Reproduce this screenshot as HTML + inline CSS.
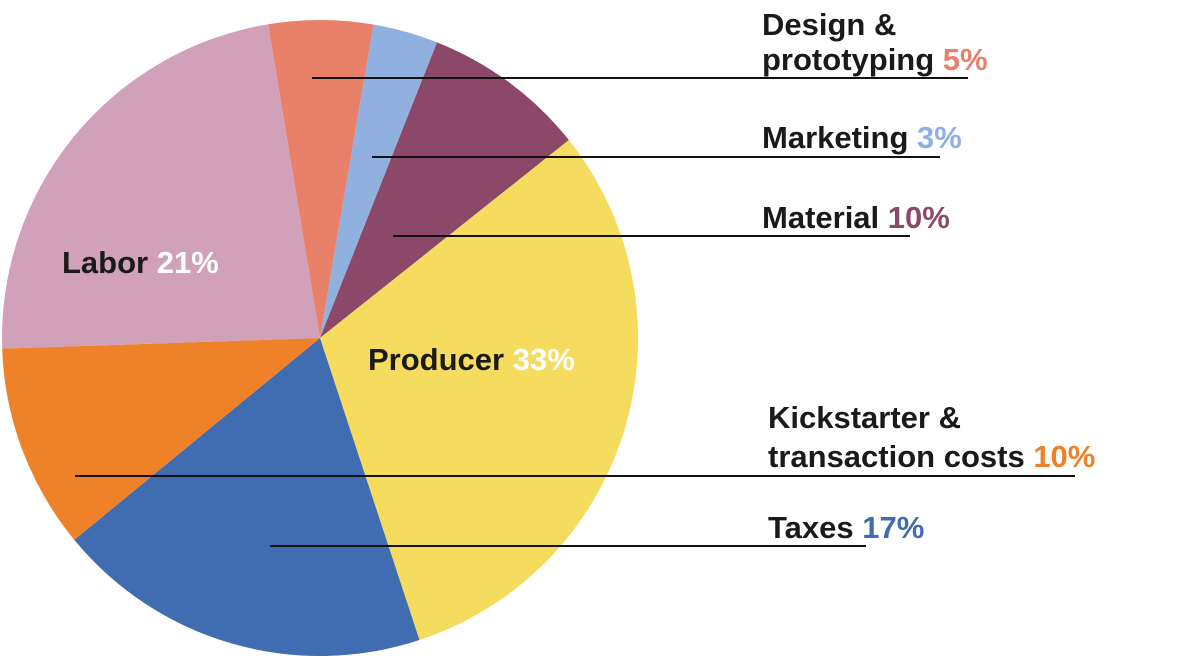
<!DOCTYPE html>
<html><head><meta charset="utf-8"><style>
html,body{margin:0;padding:0;background:#fff;}
svg{display:block;}
text{font-family:"Liberation Sans",sans-serif;font-weight:bold;font-size:31px;}
</style></head><body>
<svg id="chart" width="1198" height="663" viewBox="0 0 1198 663"></svg>
<script>
const categories = ["Design & prototyping","Marketing","Material","Producer","Taxes","Kickstarter & transaction costs","Labor"];
const sliceValues = [5.3, 3.3, 8.3, 30.6, 19.1, 10.4, 22.9];
const labelPercents = ["5%","3%","10%","33%","17%","10%","21%"];
const colors = ["#e8806a","#90b0df","#8b4868","#f6dc5e","#406db2","#ef8229","#d0a1b9"];
const cx = 320, cy = 338, r = 318, startDeg = -9.4;
const svg = document.getElementById('chart');
const NS = "http://www.w3.org/2000/svg";
const total = sliceValues.reduce((a,b)=>a+b,0);
function pt(deg, rad){const a=(deg-90)*Math.PI/180;return [cx+rad*Math.cos(a), cy+rad*Math.sin(a)];}
let ang = startDeg;
sliceValues.forEach((v,i)=>{
  const sweep = v/total*360;
  const [x1,y1]=pt(ang,r),[x2,y2]=pt(ang+sweep,r);
  const p=document.createElementNS(NS,'path');
  p.setAttribute('d',`M${cx},${cy}L${x1},${y1}A${r},${r} 0 ${sweep>180?1:0} 1 ${x2},${y2}Z`);
  p.setAttribute('fill',colors[i]);
  
  
  svg.appendChild(p);
  ang += sweep;
});
function line(x1,y,x2,name){
  const l=document.createElementNS(NS,'line');
  l.setAttribute('x1',x1);l.setAttribute('x2',x2);l.setAttribute('y1',y);l.setAttribute('y2',y);
  l.setAttribute('stroke','#111');l.setAttribute('stroke-width','2');
  
  
  svg.appendChild(l);
}
function label(x,y,parts,name){
  const t=document.createElementNS(NS,'text');
  t.setAttribute('x',x);t.setAttribute('y',y);
  
  
  parts.forEach(([s,c])=>{const ts=document.createElementNS(NS,'tspan');ts.textContent=s;ts.setAttribute('fill',c);t.appendChild(ts);});
  svg.appendChild(t);
}
line(312,78,968,'design-leader-line');
line(372,157,940,'marketing-leader-line');
line(393,236,910,'material-leader-line');
line(75,476,1075,'kickstarter-leader-line');
line(270,546,866,'taxes-leader-line');
label(762,35,[["Design &","#1a1a1a"]],'design-label-line1');
label(762,70,[["prototyping ","#1a1a1a"],[labelPercents[0],colors[0]]],'design-label');
label(762,148,[["Marketing ","#1a1a1a"],[labelPercents[1],colors[1]]],'marketing-label');
label(762,228,[["Material ","#1a1a1a"],[labelPercents[2],colors[2]]],'material-label');
label(768,428,[["Kickstarter &","#1a1a1a"]],'kickstarter-label-line1');
label(768,467,[["transaction costs ","#1a1a1a"],[labelPercents[5],colors[5]]],'kickstarter-label');
label(768,538,[["Taxes ","#1a1a1a"],[labelPercents[4],colors[4]]],'taxes-label');
label(62,273,[["Labor ","#1a1a1a"],[labelPercents[6],"#ffffff"]],'labor-label');
label(368,370,[["Producer ","#1a1a1a"],[labelPercents[3],"#ffffff"]],'producer-label');
</script>
</body></html>
